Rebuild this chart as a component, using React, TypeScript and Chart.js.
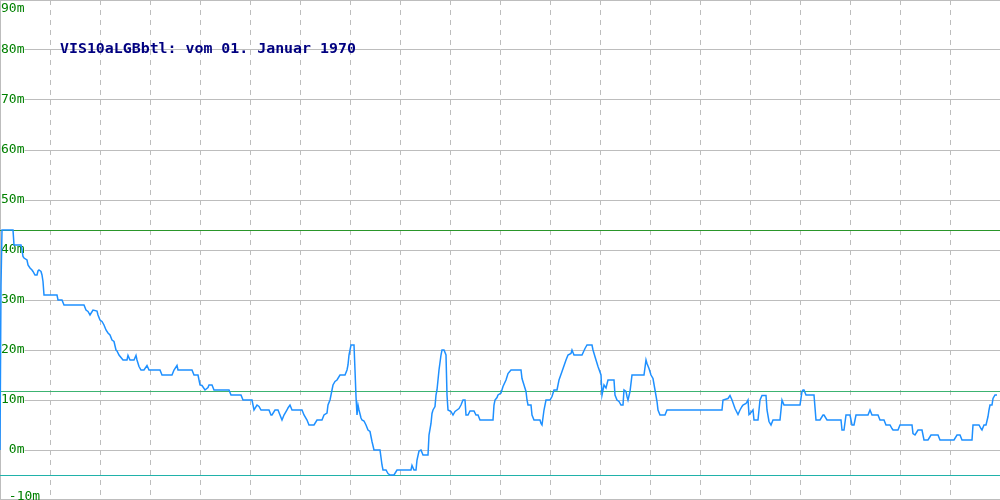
import React, { useEffect, useRef } from 'react';
import { Chart, registerables } from 'chart.js';

Chart.register(...registerables);

// Sample positions along the time axis and the measured level (m)
const sampleIndex = [
  0, 1, 2, 13, 14, 21, 22, 23, 24, 27, 28, 30, 32, 33, 35, 37, 38, 39, 41, 42, 43, 44, 57, 58, 62, 64, 84, 86, 88, 90,
  93, 97, 98, 100, 102, 104, 106, 108, 110, 112, 114, 116, 117, 119, 123, 127, 128, 130, 134, 136, 137, 139, 141, 144, 147, 149, 160, 162, 172, 174,
  177, 178, 192, 194, 198, 200, 202, 205, 208, 209, 212, 214, 229, 231, 241, 243, 252, 254, 257, 259, 261, 269, 271, 272, 275, 278, 280, 282, 284, 287,
  288, 290, 292, 302, 304, 307, 309, 314, 317, 322, 324, 327, 328, 330, 332, 333, 335, 337, 340, 345, 347, 348, 349, 351, 354, 355, 356, 357, 358, 359,
  361, 362, 364, 366, 368, 370, 372, 374, 380, 382, 383, 386, 388, 390, 394, 397, 411, 412, 414, 416, 417, 419, 421, 423, 428, 429, 431, 432, 433, 435,
  436, 437, 439, 441, 442, 444, 446, 447, 448, 451, 453, 455, 457, 459, 461, 463, 465, 466, 468, 470, 474, 476, 478, 480, 493, 494, 495, 497, 498, 501,
  503, 506, 508, 511, 521, 522, 524, 526, 527, 528, 531, 532, 534, 540, 541, 542, 544, 546, 550, 552, 554, 557, 559, 562, 566, 568, 571, 572, 574, 582,
  585, 587, 592, 593, 596, 598, 601, 602, 604, 606, 608, 614, 615, 617, 619, 621, 623, 624, 626, 627, 628, 630, 632, 644, 646, 647, 649, 651, 653, 655,
  657, 658, 660, 665, 667, 722, 723, 728, 730, 732, 735, 738, 740, 742, 743, 746, 748, 749, 751, 753, 754, 758, 760, 762, 766, 767, 769, 771, 773, 780,
  782, 784, 800, 802, 803, 804, 806, 814, 816, 820, 823, 824, 827, 841, 842, 844, 846, 850, 852, 854, 856, 868, 870, 872, 878, 880, 884, 886, 890, 892,
  893, 898, 900, 912, 913, 915, 918, 922, 924, 928, 931, 938, 940, 954, 957, 960, 962, 972, 973, 979, 981, 982, 984, 986, 988, 989, 990, 992, 993, 995,
  997,
];

const levelValues = [
  0, 33, 44, 44, 41, 41, 40, 38.7, 38.4, 38, 37, 36.4, 36, 35.7, 35, 35, 35.8, 36, 35.7, 35, 33.7, 31, 31, 30, 30, 29, 29, 28, 27.7, 27,
  28, 27.8, 27, 26, 25.7, 25, 24, 23.4, 23, 22, 21.7, 20, 19.8, 19, 18, 18, 18.9, 18, 18, 18.9, 18, 16.7, 16, 16, 16.9, 16, 16, 15, 15, 16,
  16.9, 16, 16, 15, 15, 13, 12.9, 12, 12.5, 13, 13, 12, 12, 11, 11, 10, 10, 8, 9, 8.7, 8, 8, 7, 7, 8, 8, 7, 6, 7, 8,
  8.4, 9, 8, 8, 7, 6, 5, 5, 6, 6, 7, 7.4, 9, 10, 12, 13, 13.7, 14, 15, 15, 16, 17, 19, 21, 21, 16, 10.7, 7, 9, 8,
  6.4, 6, 5.8, 5, 4, 3.7, 1.7, 0, 0, -3, -4, -4, -4.7, -5, -5, -4, -4, -3.1, -4, -4, -2, -0.2, 0, -1, -1, 3, 5.3, 7.3, 8, 8.7,
  11, 12, 16, 19, 20, 20, 19, 11, 8, 7.7, 7, 7.7, 8, 8.3, 9, 10, 10, 7, 7, 7.8, 7.8, 7, 7, 6, 6, 9, 10, 10.5, 11, 11.4,
  12.7, 14, 15.3, 16, 16, 14.3, 13, 11.7, 10, 9, 9, 7, 6, 6, 5.3, 5, 8, 10, 10, 10.7, 12, 12, 14, 15.7, 18, 19, 19.3, 20, 19, 19,
  20.3, 21, 21, 20, 18, 16.7, 15, 11, 13, 12.4, 14, 14, 11, 10, 9.7, 9, 9, 12, 11.7, 10.7, 10, 11.7, 15, 15, 18, 17.3, 16.3, 15, 14.3, 12,
  9.7, 8, 7, 7, 8, 8, 10, 10.3, 10.9, 10, 8.3, 7.1, 8, 8.7, 9, 9.3, 10, 7.1, 7.5, 8, 6, 6, 10, 10.9, 10.9, 8, 5.7, 5, 6, 6,
  10, 9, 9, 11.7, 12, 12, 11, 11, 6, 6, 7, 7, 6, 6, 4, 4, 7, 7, 5, 5, 7, 7, 8, 7, 7, 6, 6, 5, 5, 4.3,
  4, 4, 5, 5, 3.3, 3, 4, 4, 2, 2, 3, 3, 2, 2, 3, 3, 2, 2, 5, 5, 4.3, 4, 5, 5, 6.7, 8, 9, 9, 10.3, 11,
  11,
];

// Horizontal reference levels (m)
const limitUpper = 43.9;
const limitMiddle = 11.7;
const limitLower = -5.1;
const limitSpan = [0, 1000];

const yTickValues = [-10, 0, 10, 20, 30, 40, 50, 60, 70, 80, 90];
const yTickLabels = ['-10m', '0m', '10m', '20m', '30m', '40m', '50m', '60m', '70m', '80m', '90m'];

const titleText = 'VIS10aLGBbtl: vom 01. Januar 1970';

const insideTitle = {
  id: 'insideTitle',
  afterDraw(chart: any) {
    const ctx = chart.ctx;
    ctx.save();
    ctx.font = 'bold 14.9px "DejaVu Sans Mono"';
    ctx.fillStyle = '#000080';
    ctx.textBaseline = 'alphabetic';
    ctx.textAlign = 'left';
    ctx.fillText(titleText, 60, 53);
    ctx.restore();
  },
};

const GRID = '#bdbdbd';

const zeroFit = (scale: any) => {
  scale.paddingTop = 0;
  scale.paddingBottom = 0;
  scale.paddingLeft = 0;
  scale.paddingRight = 0;
  if (scale.isHorizontal()) scale.height = 0;
  else scale.width = 0;
};

export default function App() {
  const ref = useRef<HTMLCanvasElement>(null);

  useEffect(() => {
    if (!ref.current) return;
    const limitLine = (v: number, color: string) => ({
      data: limitSpan.map((x) => ({ x, y: v })),
      borderColor: color,
      borderWidth: 1,
      pointRadius: 0,
      tension: 0,
      fill: false,
    });
    const chart = new Chart(ref.current, {
      type: 'line',
      data: {
        datasets: [
          {
            data: sampleIndex.map((x, i) => ({ x, y: levelValues[i] })),
            borderColor: '#1e90ff',
            borderWidth: 1.5,
            pointRadius: 0,
            tension: 0,
            fill: false,
          },
          limitLine(limitUpper, '#2a962a'),
          limitLine(limitMiddle, '#3cb371'),
          limitLine(limitLower, '#20b2aa'),
        ] as any,
      },
      options: {
        animation: false,
        responsive: false,
        devicePixelRatio: 1,
        layout: { padding: 0, autoPadding: false },
        plugins: { legend: { display: false }, tooltip: { enabled: false }, title: { display: false } },
        scales: {
          x: {
            type: 'linear',
            min: 0,
            max: 1000,
            afterFit: zeroFit,
            ticks: { display: false, stepSize: 50 },
            grid: { color: GRID, drawTicks: false, lineWidth: 1 },
            border: { display: true, color: GRID, width: 2, dash: [5, 5] },
          },
          y: {
            type: 'linear',
            position: 'left',
            min: -10,
            max: 90,
            afterFit: zeroFit,
            afterBuildTicks: (scale: any) => {
              scale.ticks = yTickValues.map((value) => ({ value }));
            },
            ticks: {
              mirror: true,
              padding: 1,
              color: '#008000',
              font: (ctx: any) => {
                const v = ctx.tick ? ctx.tick.value : 0;
                return {
                  family: '"DejaVu Sans Mono"',
                  size: 13,
                  lineHeight: v === 90 ? '17px' : v === -10 ? '7px' : 1.2,
                };
              },
              showLabelBackdrop: (ctx: any) => !!ctx.tick && ctx.tick.value > -10 && ctx.tick.value < 90,
              backdropColor: '#ffffff',
              backdropPadding: 0,
              callback: (value: any) => {
                const idx = yTickValues.indexOf(Number(value));
                const label = idx >= 0 ? yTickLabels[idx] : String(value);
                if (Number(value) === 90) return ['', label];
                if (Number(value) === -10) return [' ' + label, ''];
                return label.padStart(3, ' ');
              },
            },
            grid: { color: GRID, drawTicks: false, lineWidth: 1 },
            border: { display: true, color: GRID, width: 1 },
          },
        },
      } as any,
      plugins: [insideTitle],
    });
    return () => chart.destroy();
  }, []);

  return (
    <div style={{ position: 'fixed', left: 0, top: 0, width: 1000, height: 500, background: '#fff' }}>
      <canvas ref={ref} width={1000} height={500} style={{ display: 'block', width: 1000, height: 500 }} />
    </div>
  );
}
